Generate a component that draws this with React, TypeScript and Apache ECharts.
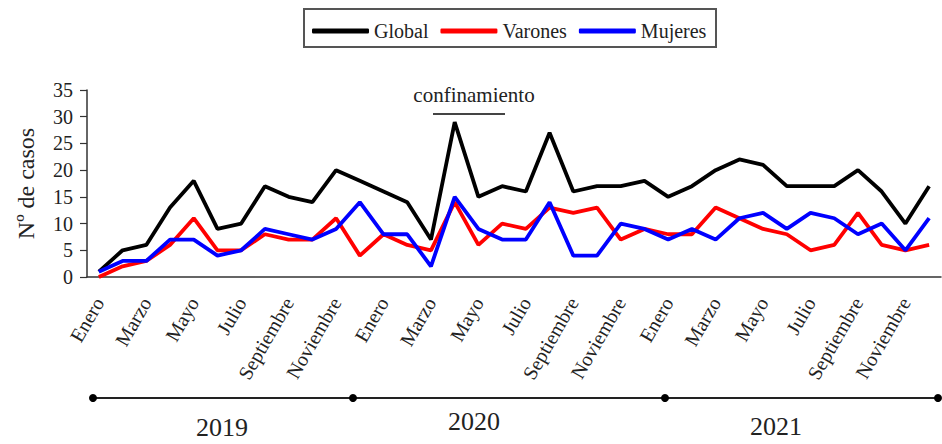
import React, { useEffect, useRef } from 'react';
import * as echarts from 'echarts';

const months = ['Enero', 'Febrero', 'Marzo', 'Abril', 'Mayo', 'Junio', 'Julio', 'Agosto', 'Septiembre', 'Octubre', 'Noviembre', 'Diciembre'];
const years = ['2019', '2020', '2021'];
const categories = years.flatMap((y) => months.map((m) => `${m} ${y}`));

const globalCases = [1, 5, 6, 13, 18, 9, 10, 17, 15, 14, 20, 18, 16, 14, 7, 29, 15, 17, 16, 27, 16, 17, 17, 18, 15, 17, 20, 22, 21, 17, 17, 17, 20, 16, 10, 17];
const varones = [0, 2, 3, 6, 11, 5, 5, 8, 7, 7, 11, 4, 8, 6, 5, 14, 6, 10, 9, 13, 12, 13, 7, 9, 8, 8, 13, 11, 9, 8, 5, 6, 12, 6, 5, 6];
const mujeres = [1, 3, 3, 7, 7, 4, 5, 9, 8, 7, 9, 14, 8, 8, 2, 15, 9, 7, 7, 14, 4, 4, 10, 9, 7, 9, 7, 11, 12, 9, 12, 11, 8, 10, 5, 11];

const yTicks = { min: 0, max: 35, interval: 5 };

const FONT = 'Liberation Serif, serif';

export default function App() {
  const ref = useRef<HTMLDivElement>(null);
  useEffect(() => {
    if (!ref.current) return;
    const chart = echarts.init(ref.current, undefined, { renderer: 'svg' });
    const mkSeries = (name: string, data: number[], color: string) => ({
      name,
      type: 'line',
      data,
      symbol: 'none',
      lineStyle: { color, width: 3.8 },
      itemStyle: { color },
    });
    chart.setOption({
      animation: false,
      backgroundColor: '#ffffff',
      textStyle: { fontFamily: FONT },
      legend: {
        left: 307,
        top: 16,
        itemWidth: 57,
        itemHeight: 5,
        itemGap: 12,
        icon: 'roundRect',
        textStyle: { fontFamily: FONT, fontSize: 20, color: '#222' },
        data: ['Global', 'Varones', 'Mujeres'],
      },
      grid: { left: 87, right: 1, top: 90, bottom: 167 },
      xAxis: {
        type: 'category',
        data: categories,
        boundaryGap: true,
        axisLine: { lineStyle: { color: '#333', width: 1.5 } },
        axisTick: { interval: 0, length: 6, lineStyle: { color: '#333', width: 1.2 } },
        axisLabel: {
          interval: 1,
          rotate: 60,
          margin: 22,
          fontSize: 20,
          fontFamily: FONT,
          color: '#222',
          formatter: (v: string) => v.split(' ')[0],
        },
      },
      yAxis: {
        type: 'value',
        min: yTicks.min,
        max: yTicks.max,
        interval: yTicks.interval,
        name: 'Nº de casos',
        nameLocation: 'middle',
        nameGap: 49,
        nameTextStyle: { fontFamily: FONT, fontSize: 24, color: '#222' },
        axisLine: { show: true, lineStyle: { color: '#333', width: 1.5 } },
        axisTick: { show: true, length: 7, lineStyle: { color: '#333', width: 1.2 } },
        splitLine: { show: false },
        axisLabel: { fontSize: 20, fontFamily: FONT, margin: 14, color: '#222' },
      },
      series: [
        mkSeries('Global', globalCases, '#000000'),
        mkSeries('Varones', varones, '#ff0000'),
        mkSeries('Mujeres', mujeres, '#0000ff'),
      ],
      graphic: [
        {
          type: 'rect',
          shape: { x: 304, y: 9, width: 412, height: 38 },
          style: { fill: 'none', stroke: '#555', lineWidth: 2 },
          z: 10,
        },
        {
          type: 'text',
          x: 474,
          y: 95,
          style: { text: 'confinamiento', fontFamily: FONT, fontSize: 21, fill: '#222', align: 'center', verticalAlign: 'middle' },
        },
        {
          type: 'line',
          shape: { x1: 433, y1: 114, x2: 505, y2: 114 },
          style: { stroke: '#444', lineWidth: 2 },
        },
        {
          type: 'line',
          shape: { x1: 93, y1: 398, x2: 938, y2: 398 },
          style: { stroke: '#222', lineWidth: 2 },
        },
        ...[93, 353, 665, 938].map((cx) => ({
          type: 'circle',
          shape: { cx, cy: 398, r: 4 },
          style: { fill: '#000' },
        })),
        ...[
          { t: '2019', x: 222, y: 427 },
          { t: '2020', x: 474, y: 421 },
          { t: '2021', x: 776, y: 426 },
        ].map((d) => ({
          type: 'text',
          x: d.x,
          y: d.y,
          style: { text: d.t, fontFamily: FONT, fontSize: 26, fill: '#222', align: 'center', verticalAlign: 'middle' },
        })),
      ],
    });
    return () => chart.dispose();
  }, []);
  return <div ref={ref} style={{ position: 'fixed', left: 0, top: 0, width: 942, height: 444 }} />;
}
